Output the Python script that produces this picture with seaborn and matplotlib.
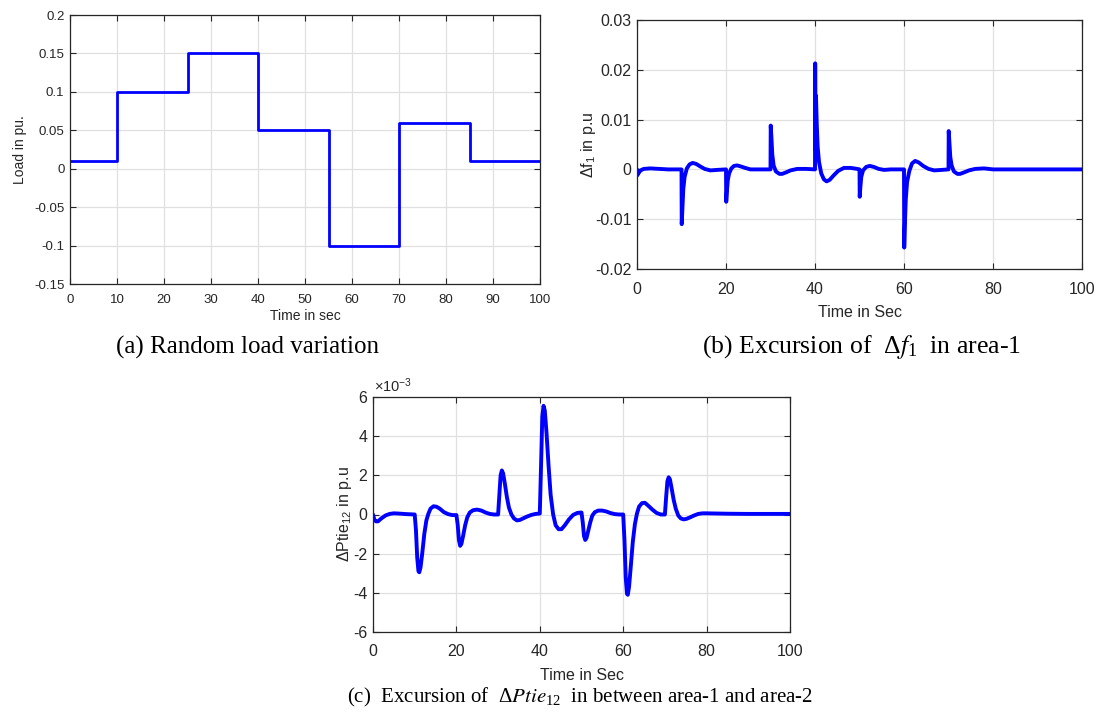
import numpy as np
import pandas as pd
import matplotlib
matplotlib.use("Agg")
import matplotlib.pyplot as plt
import seaborn as sns

# ---------------- data ----------------
# (a) random load variation (step changes)
load_time = [0, 10, 25, 40, 55, 70, 85, 100]
load_values = [0.01, 0.10, 0.15, 0.05, -0.10, 0.06, 0.01, 0.01]
load_xticks = [0, 10, 20, 30, 40, 50, 60, 70, 80, 90, 100]
load_yticks = [-0.15, -0.10, -0.05, 0.0, 0.05, 0.10, 0.15, 0.20]

# (b) frequency deviation in area-1
f1_time = [0, 0.05, 0.3, 0.8, 1.5, 3, 5, 7,
           10.0, 10.05, 10.2, 10.4, 10.7, 11.2, 11.8, 12.5, 13.3, 14.2, 15.2, 16.5, 18,
           20.0, 20.05, 20.2, 20.4, 20.7, 21.2, 21.8, 22.5, 23.3, 24.3, 25.5, 27.5,
           30.0, 30.05, 30.2, 30.4, 30.7, 31.2, 32.0, 32.6, 33.5, 34.5, 36, 38,
           40.0, 40.04, 40.12, 40.22, 40.4, 40.6, 40.9, 41.4, 42.0, 42.6, 43.3, 44.2, 45.2, 46.5, 48, 49.5,
           50.0, 50.05, 50.2, 50.4, 50.8, 51.5, 52.3, 53.2, 54.3, 55.5, 57,
           60.0, 60.05, 60.2, 60.4, 60.7, 61.2, 61.8, 62.5, 63.3, 64.3, 65.5, 66.8, 68.5,
           70.0, 70.05, 70.2, 70.4, 70.7, 71.2, 72.0, 72.6, 73.5, 74.6, 76, 78, 80, 100]
f1_values = [0.0, -0.0012, -0.0008, -0.0002, 0.0001, 0.0002, 0.0001, 0.0,
             0.0, -0.0110, -0.0080, -0.0040, -0.0015, 0.0002, 0.0010, 0.0013, 0.0011, 0.0006, 0.0001, -0.0002, -0.0001,
             0.0, -0.0065, -0.0045, -0.0022, -0.0008, 0.0002, 0.0007, 0.0008, 0.0006, 0.0003, 0.0, 0.0,
             0.0, 0.0088, 0.0065, 0.0030, 0.0008, -0.0004, -0.0009, -0.0009, -0.0006, -0.0002, 0.0001, 0.0001,
             0.0, 0.0213, 0.0040, 0.0148, 0.0090, 0.0045, 0.0015, -0.0008, -0.0020, -0.0024, -0.0021, -0.0012, -0.0003, 0.0003, 0.0003, 0.0001,
             0.0, -0.0055, -0.0035, -0.0015, -0.0002, 0.0005, 0.0007, 0.0005, 0.0001, -0.0001, 0.0,
             0.0, -0.0157, -0.0110, -0.0060, -0.0025, -0.0003, 0.0012, 0.0017, 0.0014, 0.0007, 0.0001, -0.0002, -0.0001,
             0.0, 0.0077, 0.0055, 0.0025, 0.0008, -0.0004, -0.0009, -0.0009, -0.0006, -0.0002, 0.0001, 0.0002, 0.0, 0.0]
f1_xticks = [0, 20, 40, 60, 80, 100]
f1_yticks = [-0.02, -0.01, 0.0, 0.01, 0.02, 0.03]

# (c) tie-line power deviation (values in units of 1e-3 p.u.)
tie_time = [0, 0.3, 0.7, 1.2, 2, 3, 4, 5, 6, 8,
            10.0, 10.3, 10.6, 10.9, 11.1, 11.4, 11.8, 12.3, 12.8, 13.3, 13.8, 14.5, 15.2, 16, 17, 18, 19,
            20.0, 20.3, 20.6, 20.9, 21.2, 21.6, 22.1, 22.6, 23.2, 24, 25, 26, 27, 28, 29,
            30.0, 30.3, 30.6, 30.9, 31.2, 31.6, 32.1, 32.6, 33.2, 33.8, 34.5, 35.2, 36, 37, 38, 39,
            40.0, 40.3, 40.6, 40.9, 41.2, 41.6, 42.1, 42.6, 43.2, 43.8, 44.5, 45.2, 46, 47, 48, 49, 49.8,
            50.0, 50.3, 50.6, 50.9, 51.2, 51.6, 52.1, 52.6, 53.2, 54, 55, 56, 57, 58, 59,
            60.0, 60.3, 60.6, 60.9, 61.1, 61.4, 61.8, 62.3, 62.8, 63.3, 63.8, 64.5, 65.2, 66, 67, 68, 69,
            70.0, 70.3, 70.6, 70.9, 71.2, 71.6, 72.1, 72.6, 73.2, 73.8, 74.5, 75.2, 76, 77, 78, 79, 80, 85, 90, 100]
tie_values_e3 = [0.0, -0.25, -0.35, -0.35, -0.2, -0.05, 0.03, 0.06, 0.05, 0.02,
                 0.0, -0.8, -2.2, -2.9, -2.95, -2.7, -2.0, -1.0, -0.3, 0.05, 0.3, 0.42, 0.4, 0.3, 0.12, 0.02, -0.03,
                 -0.03, -0.5, -1.3, -1.6, -1.5, -1.1, -0.55, -0.15, 0.1, 0.22, 0.25, 0.2, 0.1, 0.03, 0.0,
                 0.0, 1.0, 2.0, 2.25, 2.1, 1.6, 0.9, 0.35, 0.0, -0.2, -0.3, -0.28, -0.2, -0.1, -0.02, 0.03,
                 0.05, 2.5, 5.0, 5.55, 5.3, 4.2, 2.5, 1.0, 0.0, -0.55, -0.75, -0.75, -0.55, -0.25, -0.02, 0.08, 0.1,
                 0.1, -0.4, -1.1, -1.3, -1.2, -0.85, -0.4, -0.05, 0.12, 0.2, 0.2, 0.15, 0.07, 0.02, 0.0,
                 0.0, -1.3, -3.2, -4.05, -4.1, -3.7, -2.7, -1.4, -0.5, 0.05, 0.4, 0.58, 0.6, 0.45, 0.25, 0.08, 0.0,
                 0.0, 0.9, 1.7, 1.9, 1.8, 1.35, 0.75, 0.3, -0.05, -0.2, -0.25, -0.22, -0.15, -0.05, 0.03, 0.06, 0.06, 0.04, 0.03, 0.03]
tie_xticks = [0, 20, 40, 60, 80, 100]
tie_yticks_e3 = [-6, -4, -2, 0, 2, 4, 6]

# ---------------- style ----------------
sns.set_style("whitegrid")
plt.rcParams["font.family"] = ["Liberation Sans", "DejaVu Sans"]
plt.rcParams["mathtext.fontset"] = "stix"
plt.rcParams["mathtext.default"] = "regular"
plt.rcParams["axes.unicode_minus"] = False

BLUE = "#0000ff"
EDGE = "#262626"
GRIDC = "#e0e0e0"
SANS = ["Liberation Sans"]
SERIF = ["Liberation Serif", "DejaVu Serif"]

fig = plt.figure(figsize=(10.97, 7.22), dpi=100)
ax_a = fig.add_axes([70 / 1097, 1 - 284 / 722, 470 / 1097, 269 / 722])
ax_b = fig.add_axes([637 / 1097, 1 - 269 / 722, 445 / 1097, 249 / 722])
ax_c = fig.add_axes([373 / 1097, 1 - 632 / 722, 417 / 1097, 235 / 722])


def style(ax, size, xpad, ypad):
    ax.set_facecolor("white")
    for s in ax.spines.values():
        s.set_visible(True)
        s.set_color(EDGE)
        s.set_linewidth(0.9)
    ax.grid(True, color=GRIDC, linewidth=0.9)
    ax.set_axisbelow(True)
    ax.tick_params(which="major", direction="in", length=4.5, width=0.8,
                   bottom=True, top=True, left=True, right=True,
                   color=EDGE, labelcolor=EDGE, labelsize=size)
    ax.tick_params(axis="x", pad=xpad)
    ax.tick_params(axis="y", pad=ypad)
    for lbl in ax.get_xticklabels() + ax.get_yticklabels():
        lbl.set_family(SANS)


def fmt(v):
    return f"{v:g}"


# (a)
df_a = pd.DataFrame({"t": load_time, "v": load_values})
sns.lineplot(data=df_a, x="t", y="v", ax=ax_a, color=BLUE, linewidth=2.0,
             drawstyle="steps-post", estimator=None, sort=False)
ax_a.set_xlim(0, 100)
ax_a.set_ylim(-0.15, 0.2)
ax_a.set_xticks(load_xticks)
ax_a.set_xticklabels([fmt(v) for v in load_xticks])
ax_a.set_yticks(load_yticks)
ax_a.set_yticklabels([fmt(round(v, 2)) for v in load_yticks])
style(ax_a, 9.5, 7, 4)
ax_a.set_xlabel("Time in sec", fontsize=10, color=EDGE, labelpad=2)
ax_a.set_ylabel("Load in pu.", fontsize=10, color=EDGE, labelpad=5)

# (b)
df_b = pd.DataFrame({"t": f1_time, "v": f1_values})
sns.lineplot(data=df_b, x="t", y="v", ax=ax_b, color=BLUE, linewidth=2.8,
             estimator=None, sort=False)
ax_b.set_xlim(0, 100)
ax_b.set_ylim(-0.02, 0.03)
ax_b.set_xticks(f1_xticks)
ax_b.set_xticklabels([fmt(v) for v in f1_xticks])
ax_b.set_yticks(f1_yticks)
ax_b.set_yticklabels([fmt(round(v, 2)) for v in f1_yticks])
style(ax_b, 11.5, 9, 4)
ax_b.set_xlabel("Time in Sec", fontsize=11.5, color=EDGE, labelpad=6)
ax_b.set_ylabel(r"$\Delta$f$_1$ in p.u", fontsize=11.5, color=EDGE, labelpad=-2)

# (c)
df_c = pd.DataFrame({"t": tie_time, "v": tie_values_e3})
sns.lineplot(data=df_c, x="t", y="v", ax=ax_c, color=BLUE, linewidth=2.8,
             estimator=None, sort=False)
ax_c.set_xlim(0, 100)
ax_c.set_ylim(-6, 6)
ax_c.set_xticks(tie_xticks)
ax_c.set_xticklabels([fmt(v) for v in tie_xticks])
ax_c.set_yticks(tie_yticks_e3)
ax_c.set_yticklabels([fmt(v) for v in tie_yticks_e3])
style(ax_c, 11.5, 9, 4)
ax_c.text(0.003, 1.008, r"$\times$10$^{-3}$", transform=ax_c.transAxes,
          ha="left", va="bottom", fontsize=10.5, color=EDGE, family=SANS)
ax_c.set_xlabel("Time in Sec", fontsize=11.5, color=EDGE, labelpad=6)
ax_c.set_ylabel(r"$\Delta$Ptie$_{12}$ in p.u", fontsize=11.5, color=EDGE, labelpad=-1)

# captions
fig.text(247 / 1097, 1 - 347 / 722, "(a) Random load variation",
         ha="center", va="center", fontsize=18, family=SERIF, color="black")
fig.text(862 / 1097, 1 - 347 / 722, r"(b) Excursion of  $\Delta \mathit{f}_1$  in area-1",
         ha="center", va="center", fontsize=18.5, family=SERIF, color="black")
fig.text(580 / 1097, 1 - 697 / 722,
         r"(c)  Excursion of  $\Delta \mathit{Ptie}_{12}$  in between area-1 and area-2",
         ha="center", va="center", fontsize=15, family=SERIF, color="black")

fig.savefig("out.png", dpi=100, facecolor="white")
